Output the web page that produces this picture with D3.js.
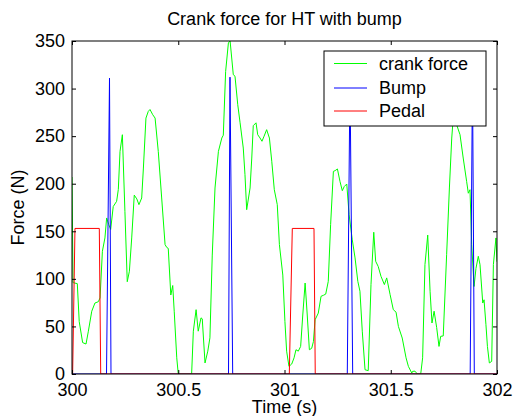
<!DOCTYPE html>
<html>
<head>
<meta charset="utf-8">
<script src="https://cdn.jsdelivr.net/npm/d3@7/dist/d3.min.js"></script>
<style>
  html, body { margin: 0; padding: 0; background: #fff; }
  svg { display: block; font-family: "Liberation Sans", Arial, Helvetica, sans-serif; }
</style>
</head>
<body>
<svg id="chart" width="513" height="416"></svg>
<script>
// ---- Data ----
const title = "Crank force for HT with bump";
const xLabel = "Time (s)";
const yLabel = "Force (N)";
const xTicks = [300, 300.5, 301, 301.5, 302];
const xTickLabels = ["300", "300.5", "301", "301.5", "302"];
const yTicks = [0, 50, 100, 150, 200, 250, 300, 350];
const seriesNames = ["crank force", "Bump", "Pedal"];
const seriesColors = ["#00ff00", "#0000ff", "#ff0000"];

const crankTime = [300.000,300.005,300.025,300.034,300.050,300.066,300.077,300.093,300.108,300.124,300.132,300.143,300.155,300.163,300.173,300.182,300.194,300.210,300.218,300.226,300.237,300.249,300.260,300.270,300.281,300.293,300.305,300.315,300.328,300.336,300.348,300.359,300.367,300.380,300.391,300.406,300.422,300.438,300.446,300.453,300.465,300.474,300.481,300.493,300.500,300.563,300.571,300.584,300.594,300.607,300.613,300.626,300.639,300.649,300.660,300.673,300.689,300.705,300.712,300.723,300.736,300.744,300.759,300.767,300.780,300.791,300.806,300.814,300.822,300.838,300.846,300.853,300.866,300.874,300.885,300.894,300.904,300.916,300.929,300.940,300.952,300.966,300.976,300.992,301.002,301.010,301.021,301.034,301.045,301.054,301.065,301.076,301.086,301.097,301.107,301.117,301.128,301.136,301.144,301.159,301.172,301.183,301.194,301.206,301.217,301.230,301.238,301.249,301.261,301.272,301.281,301.293,301.304,301.319,301.332,301.345,301.355,301.366,301.379,301.394,301.407,301.420,301.429,301.441,301.454,301.470,301.481,301.497,301.512,301.525,301.536,301.554,301.572,301.583,301.599,301.603,301.614,301.625,301.641,301.650,301.661,301.674,301.685,301.694,301.704,301.716,301.727,301.735,301.747,301.763,301.776,301.787,301.794,301.802,301.810,301.826,301.841,301.857,301.865,301.873,301.881,301.892,301.901,301.912,301.920,301.933,301.939,301.948,301.955,301.964,301.975,301.983,301.995,302.000];
const crankForce = [207,96,95,55,33,31.5,45,66,74.6,76,80,129,143,164,157,152,176,181.5,194,234,251.5,171,97,108,143,188,184,178,185,216.5,269,276,278,272.5,269,234,185,136,133,132,83,93,66,17,0,0,45,67.6,45,59,58,11.6,24,38,125,195.5,234,248,251,318,348,350,314.6,313,283,264,237.5,209.5,172.7,195.5,227,261,264,251.5,248,244.6,250,256.8,248,223.6,193.7,178,136,104,55,24,8,10.5,17,25.5,24,29,62,95.6,62,25.5,27,34,57,64,81.7,82.7,84,97.4,157,213,213.7,215.5,202.5,192.7,197,199.7,167.4,141,122,97.4,87,45,4.5,3.5,94,149,118.5,113,102.7,94,101,83.4,67.6,65,50,37.8,17,8,1,2.8,3,0,0,17,115,146,87,53.6,66,49,29,39.6,40,125.4,195.5,248,269,270,262,251.5,227,202.5,190,193.7,136,92,111,123.7,115,74.6,78,51.8,29,11.6,13.3,115,143,118];

const bumpTime = [300.000,300.1624,300.1765,300.1835,300.7365,300.7435,300.7562,301.2955,301.3082,301.3209,301.8738,301.8847,301.8932,302.000];
const bumpForce = [0,0,311,0,0,312,0,0,312,0,0,312,0,0];

const pedalTime = [300.000,300.003,300.014,300.1285,300.1351,301.0226,301.0367,301.1388,301.1447,302.000];
const pedalForce = [0,0,153,153,0,0,153,153,0,0];

// ---- Layout ----
const svg = d3.select("#chart");
const L = 72, R = 497, T = 41, B = 374;
const x = d3.scaleLinear().domain([300, 302]).range([L, R]);
const y = d3.scaleLinear().domain([0, 350]).range([B, T]);
const fontSize = 18;

svg.append("defs").append("clipPath").attr("id", "clip")
  .append("rect").attr("x", L).attr("y", T).attr("width", R - L).attr("height", B - T);

const plot = svg.append("g").attr("clip-path", "url(#clip)");
const line = d3.line().x(d => x(d[0])).y(d => y(d[1]));
const zipped = (ts, vs) => ts.map((t, i) => [t, vs[i]]);
const series = [zipped(crankTime, crankForce), zipped(bumpTime, bumpForce), zipped(pedalTime, pedalForce)];
series.forEach((s, i) => {
  plot.append("path").datum(s).attr("d", line)
    .attr("fill", "none").attr("stroke", seriesColors[i]).attr("stroke-width", 1)
    .attr("stroke-linejoin", "miter");
});

// ---- Axes ----
function styleAxis(g) {
  g.select(".domain").remove();
  g.selectAll(".tick line").attr("stroke", "#000");
  g.selectAll("text").attr("font-size", fontSize).attr("fill", "#000")
    .attr("font-family", "'Liberation Sans', Arial, Helvetica, sans-serif");
}
svg.append("g").attr("transform", `translate(0,${B})`)
  .call(d3.axisBottom(x).tickValues(xTicks).tickFormat((d, i) => xTickLabels[i]).tickSizeInner(-4).tickSizeOuter(0).tickPadding(9))
  .call(styleAxis);
svg.append("g").attr("transform", `translate(0,${T})`)
  .call(d3.axisTop(x).tickValues(xTicks).tickFormat("").tickSizeInner(-4).tickSizeOuter(0))
  .call(styleAxis);
svg.append("g").attr("transform", `translate(${L},0)`)
  .call(d3.axisLeft(y).tickValues(yTicks).tickFormat(d3.format("d")).tickSizeInner(-4).tickSizeOuter(0).tickPadding(7))
  .call(styleAxis);
svg.append("g").attr("transform", `translate(${R},0)`)
  .call(d3.axisRight(y).tickValues(yTicks).tickFormat("").tickSizeInner(-4).tickSizeOuter(0))
  .call(styleAxis);

svg.append("rect").attr("x", L).attr("y", T).attr("width", R - L).attr("height", B - T)
  .attr("fill", "none").attr("stroke", "#000").attr("stroke-width", 1);

// ---- Titles ----
svg.append("text").attr("x", (L + R) / 2).attr("y", 25).attr("text-anchor", "middle")
  .attr("font-size", fontSize).text(title);
svg.append("text").attr("x", (L + R) / 2).attr("y", 413).attr("text-anchor", "middle")
  .attr("font-size", fontSize).text(xLabel);
svg.append("text").attr("transform", `translate(24,${(T + B) / 2}) rotate(-90)`).attr("text-anchor", "middle")
  .attr("font-size", fontSize).text(yLabel);

// ---- Legend ----
const lg = svg.append("g");
lg.append("rect").attr("x", 324).attr("y", 51).attr("width", 162).attr("height", 75)
  .attr("fill", "#fff").attr("stroke", "#000").attr("stroke-width", 1);
const rowY = [63.5, 88, 111];
seriesNames.forEach((n, i) => {
  lg.append("line").attr("x1", 334).attr("x2", 367).attr("y1", rowY[i]).attr("y2", rowY[i])
    .attr("stroke", seriesColors[i]).attr("stroke-width", 1);
  lg.append("text").attr("x", 379).attr("y", rowY[i]).attr("dy", "0.35em")
    .attr("font-size", fontSize).text(n);
});
</script>
</body>
</html>
